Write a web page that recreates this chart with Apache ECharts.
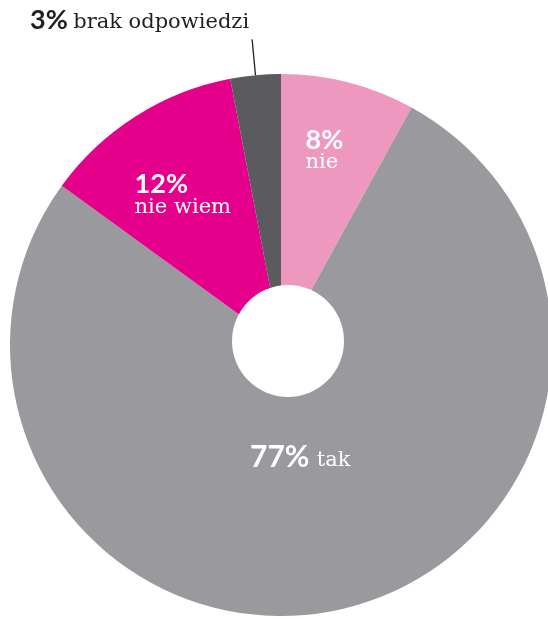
<!DOCTYPE html>
<html>
<head>
<meta charset="utf-8">
<script src="https://cdn.jsdelivr.net/npm/echarts@6/dist/echarts.min.js"></script>
<style>
  html, body { margin: 0; padding: 0; background: #ffffff; }
  #chart { width: 548px; height: 619px; }
</style>
</head>
<body>
<div id="chart"></div>
<script>
// Survey answers, clockwise from 12 o'clock
const categories = ['nie', 'tak', 'nie wiem', 'brak odpowiedzi'];
const shares = [8, 77, 12, 3];

// Slice colours, same order as the categories
const sliceColors = ['#ee98c0', '#9a999e', '#e4008a', '#5b5a5f'];

// Label arrangement per slice: stacked (percent above the answer) or on one line,
// drawn inside the slice or outside with a leader line
const labelStacked = [true, false, true, false];
const labelOutside = [false, false, false, true];
// Nudges applied to the library's inner label anchors
const labelShift = [[9, -59], [-11, -23], [-24, -32], [0, 0]];

const chart = echarts.init(document.getElementById('chart'), null, { renderer: 'canvas' });

const pctFont = 'Lato, "Open Sans", sans-serif';
const wordFont = '"DejaVu Serif", serif';

function richFor(color) {
  return {
    p: { fontFamily: pctFont, fontWeight: 'bold', fontSize: 27, color: color, lineHeight: 22, align: 'left' },
    P: { fontFamily: pctFont, fontWeight: 'bold', fontSize: 30, color: color, lineHeight: 30, verticalAlign: 'bottom', padding: [0, 4, 0, 0] },
    t: { fontFamily: wordFont, fontSize: 21, color: color, lineHeight: 23, align: 'left' },
    s: { fontFamily: wordFont, fontSize: 21, color: color, lineHeight: 30, verticalAlign: 'bottom', padding: [0, 0, 1, 0] },
    q: { fontFamily: pctFont, fontWeight: 'bold', fontSize: 27, color: color, lineHeight: 27, verticalAlign: 'bottom', padding: [0, 2, 0, 0] },
    u: { fontFamily: wordFont, fontSize: 21, color: color, lineHeight: 27, verticalAlign: 'bottom', padding: [0, 0, 1, 0] }
  };
}

const pieData = categories.map(function (name, i) {
  const item = {
    name: name,
    value: shares[i],
    itemStyle: { color: sliceColors[i] }
  };
  if (labelOutside[i]) {
    item.label = {
      position: 'outside',
      color: '#231f20',
      distanceToLabelLine: 3,
      padding: [0, 0, 38, 0],
      formatter: function (p) { return '{q|' + p.value + '%} {u|' + p.name + '}'; },
      rich: richFor('#231f20')
    };
    item.labelLine = { show: true, length: 36, length2: 0, lineStyle: { color: '#231f20', width: 1.3 } };
  } else {
    item.label = {
      position: 'inner',
      formatter: labelStacked[i]
        ? function (p) { return '{p|' + p.value + '%}\n{t|' + p.name + '}'; }
        : function (p) { return '{P|' + p.value + '%} {s|' + p.name + '}'; },
      rich: richFor('#ffffff')
    };
    item.labelLine = { show: false };
  }
  return item;
});

chart.setOption({
  backgroundColor: '#ffffff',
  animation: false,
  series: [
    {
      type: 'pie',
      center: [281, 345],
      radius: [0, 271],
      startAngle: 90,
      clockwise: true,
      avoidLabelOverlap: false,
      silent: true,
      itemStyle: { borderWidth: 0 },
      label: { show: true },
      labelLayout: function (params) {
        const o = labelShift[params.dataIndex];
        if (labelOutside[params.dataIndex]) return {};
        return { dx: o[0], dy: o[1] };
      },
      data: pieData
    },
    {
      // white centre disc
      type: 'pie',
      center: [288, 341],
      radius: [0, 56],
      silent: true,
      label: { show: false },
      labelLine: { show: false },
      itemStyle: { color: '#ffffff' },
      data: [{ value: 1, name: '' }]
    }
  ]
});
</script>
</body>
</html>
